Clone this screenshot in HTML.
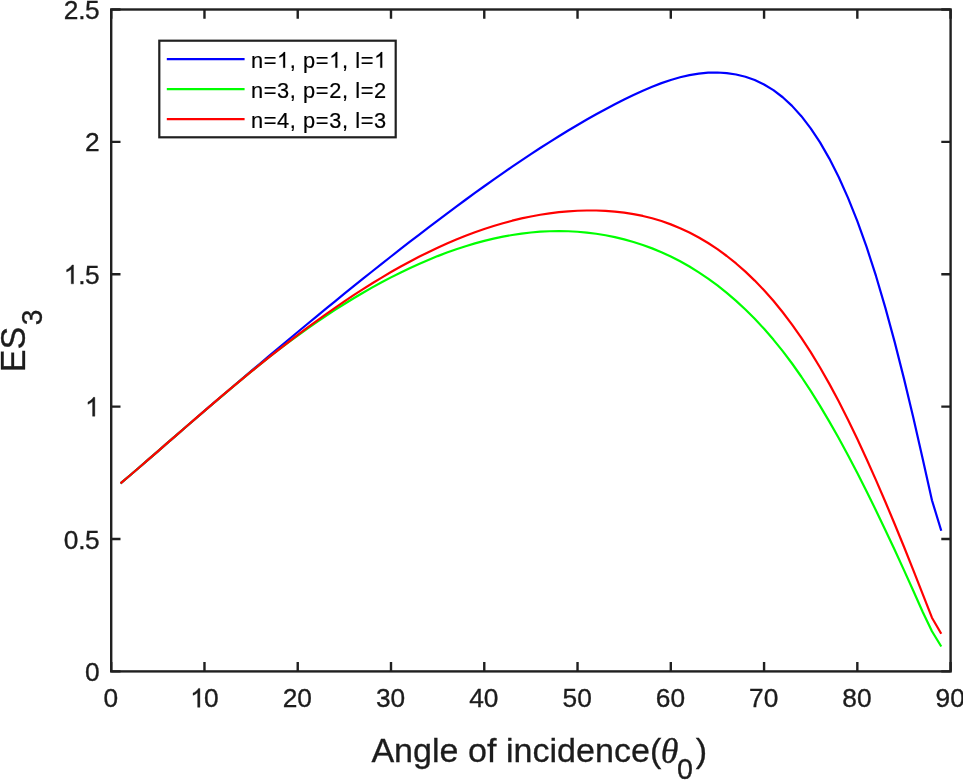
<!DOCTYPE html>
<html lang="en">
<head>
<meta charset="utf-8">
<title>ES3 vs angle of incidence</title>
<style>
html,body{margin:0;padding:0;background:#ffffff;}
body{width:963px;height:780px;overflow:hidden;font-family:"Liberation Sans",sans-serif;}
svg{display:block;will-change:transform;}
</style>
</head>
<body>
<svg width="963" height="780" viewBox="0 0 963 780">
<rect width="963" height="780" fill="#ffffff"/>
<path d="M120.53,483.30 L129.85,475.51 L139.18,467.46 L148.51,459.39 L157.83,451.30 L167.16,443.20 L176.49,435.11 L185.81,427.03 L195.14,418.97 L204.47,410.94 L213.79,402.95 L223.12,394.98 L232.45,387.03 L241.77,379.10 L251.10,371.17 L260.43,363.26 L269.75,355.40 L279.08,347.57 L288.41,339.76 L297.73,332.00 L307.06,324.26 L316.39,316.56 L325.71,308.91 L335.04,301.29 L344.37,293.71 L353.69,286.17 L363.02,278.68 L372.35,271.24 L381.67,263.84 L391.00,256.50 L400.33,249.20 L409.65,241.96 L418.98,234.78 L428.31,227.65 L437.63,220.58 L446.96,213.57 L456.29,206.62 L465.61,199.75 L474.94,192.95 L484.27,186.24 L493.59,179.61 L502.92,173.08 L512.25,166.65 L521.57,160.33 L530.90,154.12 L540.23,148.03 L549.55,142.06 L558.88,136.23 L568.21,130.53 L577.53,124.97 L586.86,119.57 L596.19,114.31 L605.51,109.22 L614.84,104.30 L624.17,99.55 L633.49,95.00 L642.82,90.71 L652.15,86.73 L661.47,83.13 L670.80,79.96 L680.13,77.27 L689.45,75.12 L698.78,73.57 L708.11,72.68 L717.43,72.50 L726.76,73.08 L736.09,74.50 L745.41,76.79 L754.74,80.08 L764.07,84.49 L773.39,90.17 L782.72,97.25 L792.05,105.88 L801.37,116.19 L810.70,128.32 L820.03,142.41 L829.35,158.60 L838.68,177.04 L848.01,197.85 L857.33,221.18 L866.66,247.17 L875.99,275.96 L885.31,307.59 L894.64,341.88 L903.97,378.61 L913.29,417.54 L922.62,458.46 L931.95,500.20 L941.27,530.80" fill="none" stroke="#0000ff" stroke-width="2.2" stroke-linejoin="round" stroke-linecap="butt"/>
<path d="M120.53,483.30 L129.85,475.51 L139.18,467.46 L148.51,459.39 L157.83,451.30 L167.16,443.20 L176.49,435.11 L185.81,427.03 L195.14,418.99 L204.47,410.97 L213.79,402.98 L223.12,395.04 L232.45,387.16 L241.77,379.38 L251.10,371.70 L260.43,364.16 L269.75,356.75 L279.08,349.50 L288.41,342.42 L297.73,335.53 L307.06,328.83 L316.39,322.33 L325.71,316.01 L335.04,309.89 L344.37,303.97 L353.69,298.25 L363.02,292.73 L372.35,287.41 L381.67,282.29 L391.00,277.38 L400.33,272.67 L409.65,268.19 L418.98,263.93 L428.31,259.90 L437.63,256.10 L446.96,252.55 L456.29,249.24 L465.61,246.19 L474.94,243.40 L484.27,240.88 L493.59,238.63 L502.92,236.67 L512.25,234.98 L521.57,233.59 L530.90,232.50 L540.23,231.71 L549.55,231.24 L558.88,231.08 L568.21,231.24 L577.53,231.74 L586.86,232.56 L596.19,233.74 L605.51,235.26 L614.84,237.13 L624.17,239.37 L633.49,241.97 L642.82,244.98 L652.15,248.39 L661.47,252.23 L670.80,256.53 L680.13,261.30 L689.45,266.56 L698.78,272.33 L708.11,278.63 L717.43,285.48 L726.76,292.90 L736.09,300.92 L745.41,309.54 L754.74,318.83 L764.07,328.82 L773.39,339.57 L782.72,351.12 L792.05,363.50 L801.37,376.75 L810.70,390.87 L820.03,405.83 L829.35,421.58 L838.68,438.07 L848.01,455.25 L857.33,473.07 L866.66,491.49 L875.99,510.45 L885.31,529.92 L894.64,549.83 L903.97,570.14 L913.29,590.80 L922.62,611.76 L931.95,631.20 L941.27,646.50" fill="none" stroke="#00ff00" stroke-width="2.2" stroke-linejoin="round" stroke-linecap="butt"/>
<path d="M120.53,483.30 L129.85,475.51 L139.18,467.46 L148.51,459.39 L157.83,451.30 L167.16,443.20 L176.49,435.11 L185.81,427.02 L195.14,418.94 L204.47,410.89 L213.79,402.88 L223.12,394.95 L232.45,387.11 L241.77,379.36 L251.10,371.71 L260.43,364.16 L269.75,356.69 L279.08,349.33 L288.41,342.09 L297.73,334.97 L307.06,327.97 L316.39,321.11 L325.71,314.40 L335.04,307.84 L344.37,301.43 L353.69,295.20 L363.02,289.14 L372.35,283.26 L381.67,277.57 L391.00,272.07 L400.33,266.78 L409.65,261.69 L418.98,256.82 L428.31,252.16 L437.63,247.71 L446.96,243.50 L456.29,239.51 L465.61,235.76 L474.94,232.25 L484.27,228.98 L493.59,225.96 L502.92,223.20 L512.25,220.69 L521.57,218.44 L530.90,216.47 L540.23,214.76 L549.55,213.33 L558.88,212.18 L568.21,211.32 L577.53,210.75 L586.86,210.48 L596.19,210.51 L605.51,210.86 L614.84,211.55 L624.17,212.61 L633.49,214.07 L642.82,215.95 L652.15,218.27 L661.47,221.07 L670.80,224.36 L680.13,228.18 L689.45,232.54 L698.78,237.48 L708.11,243.02 L717.43,249.18 L726.76,255.99 L736.09,263.47 L745.41,271.66 L754.74,280.58 L764.07,290.29 L773.39,300.82 L782.72,312.22 L792.05,324.55 L801.37,337.83 L810.70,352.12 L820.03,367.46 L829.35,383.87 L838.68,401.32 L848.01,419.73 L857.33,439.04 L866.66,459.19 L875.99,480.10 L885.31,501.71 L894.64,523.96 L903.97,546.78 L913.29,570.10 L922.62,593.87 L931.95,617.70 L941.27,633.80" fill="none" stroke="#ff0000" stroke-width="2.2" stroke-linejoin="round" stroke-linecap="butt"/>
<rect x="111.2" y="9.5" width="839.40" height="661.90" fill="none" stroke="#202020" stroke-width="2.4"/>
<path d="M111.20,671.4 v-9.3 M111.20,9.5 v9.3 M204.47,671.4 v-9.3 M204.47,9.5 v9.3 M297.73,671.4 v-9.3 M297.73,9.5 v9.3 M391.00,671.4 v-9.3 M391.00,9.5 v9.3 M484.27,671.4 v-9.3 M484.27,9.5 v9.3 M577.53,671.4 v-9.3 M577.53,9.5 v9.3 M670.80,671.4 v-9.3 M670.80,9.5 v9.3 M764.07,671.4 v-9.3 M764.07,9.5 v9.3 M857.33,671.4 v-9.3 M857.33,9.5 v9.3 M950.60,671.4 v-9.3 M950.60,9.5 v9.3 M111.2,671.40 h9.3 M950.6,671.40 h-9.3 M111.2,539.02 h9.3 M950.6,539.02 h-9.3 M111.2,406.64 h9.3 M950.6,406.64 h-9.3 M111.2,274.26 h9.3 M950.6,274.26 h-9.3 M111.2,141.88 h9.3 M950.6,141.88 h-9.3 M111.2,9.50 h9.3 M950.6,9.50 h-9.3" fill="none" stroke="#202020" stroke-width="2.4"/>
<g font-family="Liberation Sans, sans-serif" style="font-kerning:none">
<text x="103.49" y="707.30" font-size="26.3" fill="#1c1c1c" stroke="#1c1c1c" stroke-width="0.35">0</text>
<path transform="translate(190.14,707.30) scale(0.01284,-0.01284)" d="M763,0H583V1147Q518,1085 412.5,1023Q307,961 223,930V1104Q374,1175 487,1276Q600,1377 647,1472H763Z" fill="#1c1c1c" stroke="#1c1c1c" stroke-width="27.3"/><text x="204.07" y="707.30" font-size="26.3" fill="#1c1c1c" stroke="#1c1c1c" stroke-width="0.35">0</text>
<text x="282.71" y="707.30" font-size="26.3" fill="#1c1c1c" stroke="#1c1c1c" stroke-width="0.35">20</text>
<text x="375.97" y="707.30" font-size="26.3" fill="#1c1c1c" stroke="#1c1c1c" stroke-width="0.35">30</text>
<text x="469.24" y="707.30" font-size="26.3" fill="#1c1c1c" stroke="#1c1c1c" stroke-width="0.35">40</text>
<text x="562.51" y="707.30" font-size="26.3" fill="#1c1c1c" stroke="#1c1c1c" stroke-width="0.35">50</text>
<text x="655.77" y="707.30" font-size="26.3" fill="#1c1c1c" stroke="#1c1c1c" stroke-width="0.35">60</text>
<text x="749.04" y="707.30" font-size="26.3" fill="#1c1c1c" stroke="#1c1c1c" stroke-width="0.35">70</text>
<text x="842.31" y="707.30" font-size="26.3" fill="#1c1c1c" stroke="#1c1c1c" stroke-width="0.35">80</text>
<text x="935.57" y="707.30" font-size="26.3" fill="#1c1c1c" stroke="#1c1c1c" stroke-width="0.35">90</text>
<text x="85.07" y="681.00" font-size="26.3" fill="#1c1c1c" stroke="#1c1c1c" stroke-width="0.35">0</text>
<text x="85.07" y="548.62" font-size="26.3" fill="#1c1c1c" stroke="#1c1c1c" stroke-width="0.35">5</text>
<text x="63.74" y="548.62" font-size="26.3" fill="#1c1c1c" stroke="#1c1c1c" stroke-width="0.35">0.</text>
<path transform="translate(85.07,416.24) scale(0.01284,-0.01284)" d="M763,0H583V1147Q518,1085 412.5,1023Q307,961 223,930V1104Q374,1175 487,1276Q600,1377 647,1472H763Z" fill="#1c1c1c" stroke="#1c1c1c" stroke-width="27.3"/>
<text x="85.07" y="283.86" font-size="26.3" fill="#1c1c1c" stroke="#1c1c1c" stroke-width="0.35">5</text>
<path transform="translate(63.74,283.86) scale(0.01284,-0.01284)" d="M763,0H583V1147Q518,1085 412.5,1023Q307,961 223,930V1104Q374,1175 487,1276Q600,1377 647,1472H763Z" fill="#1c1c1c" stroke="#1c1c1c" stroke-width="27.3"/><text x="78.37" y="283.86" font-size="26.3" fill="#1c1c1c" stroke="#1c1c1c" stroke-width="0.35">.</text>
<text x="85.07" y="151.48" font-size="26.3" fill="#1c1c1c" stroke="#1c1c1c" stroke-width="0.35">2</text>
<text x="85.07" y="19.10" font-size="26.3" fill="#1c1c1c" stroke="#1c1c1c" stroke-width="0.35">5</text>
<text x="63.74" y="19.10" font-size="26.3" fill="#1c1c1c" stroke="#1c1c1c" stroke-width="0.35">2.</text>
</g>
<text x="371.4" y="762.4" font-family="Liberation Sans, sans-serif" font-size="34.1" fill="#1c1c1c" stroke="#1c1c1c" stroke-width="0.3">Angle of incidence(</text>
<text x="660.8" y="763.0" font-family="Liberation Serif, serif" font-style="italic" font-size="36" fill="#1c1c1c" stroke="#1c1c1c" stroke-width="0.3">θ</text>
<text x="677.1" y="779.2" font-family="Liberation Sans, sans-serif" font-size="28.7" fill="#1c1c1c" stroke="#1c1c1c" stroke-width="0.3">0</text>
<text x="695.8" y="762.4" font-family="Liberation Sans, sans-serif" font-size="34.1" fill="#1c1c1c" stroke="#1c1c1c" stroke-width="0.3">)</text>
<g transform="translate(25.4,372.3) rotate(-90) scale(1,1.04)" font-family="Liberation Sans, sans-serif" fill="#1c1c1c" stroke="#1c1c1c" stroke-width="0.3"><text x="0" y="0" font-size="34.1">ES</text><text x="47.0" y="15.8" font-size="28.2">3</text></g>
<rect x="159.3" y="40.7" width="236.40" height="96.60" fill="#ffffff" stroke="#202020" stroke-width="2.2"/>
<g font-family="Liberation Sans, sans-serif" style="font-kerning:none">
<path d="M166.8,59.1 H244.6" stroke="#0000ff" stroke-width="2.2" fill="none"/>
<text x="250.90" y="67.70" font-size="21.8" letter-spacing="0.62" fill="#000000" stroke="#000000" stroke-width="0.2">n=</text><path transform="translate(276.99,67.70) scale(0.01064,-0.01064)" d="M763,0H583V1147Q518,1085 412.5,1023Q307,961 223,930V1104Q374,1175 487,1276Q600,1377 647,1472H763Z" fill="#000000" stroke="#000000" stroke-width="18.8"/><text x="289.74" y="67.70" font-size="21.8" letter-spacing="0.62" fill="#000000" stroke="#000000" stroke-width="0.2">,&#160;p=</text><path transform="translate(329.19,67.70) scale(0.01064,-0.01064)" d="M763,0H583V1147Q518,1085 412.5,1023Q307,961 223,930V1104Q374,1175 487,1276Q600,1377 647,1472H763Z" fill="#000000" stroke="#000000" stroke-width="18.8"/><text x="341.93" y="67.70" font-size="21.8" letter-spacing="0.62" fill="#000000" stroke="#000000" stroke-width="0.2">,&#160;l=</text><path transform="translate(374.10,67.70) scale(0.01064,-0.01064)" d="M763,0H583V1147Q518,1085 412.5,1023Q307,961 223,930V1104Q374,1175 487,1276Q600,1377 647,1472H763Z" fill="#000000" stroke="#000000" stroke-width="18.8"/>
<path d="M166.8,89.1 H244.6" stroke="#00ff00" stroke-width="2.2" fill="none"/>
<text x="250.90" y="97.70" font-size="21.8" letter-spacing="0.62" fill="#000000" stroke="#000000" stroke-width="0.2">n=3,&#160;p=2,&#160;l=2</text>
<path d="M166.8,119.1 H244.6" stroke="#ff0000" stroke-width="2.2" fill="none"/>
<text x="250.90" y="127.70" font-size="21.8" letter-spacing="0.62" fill="#000000" stroke="#000000" stroke-width="0.2">n=4,&#160;p=3,&#160;l=3</text>
</g>
</svg>
</body>
</html>
